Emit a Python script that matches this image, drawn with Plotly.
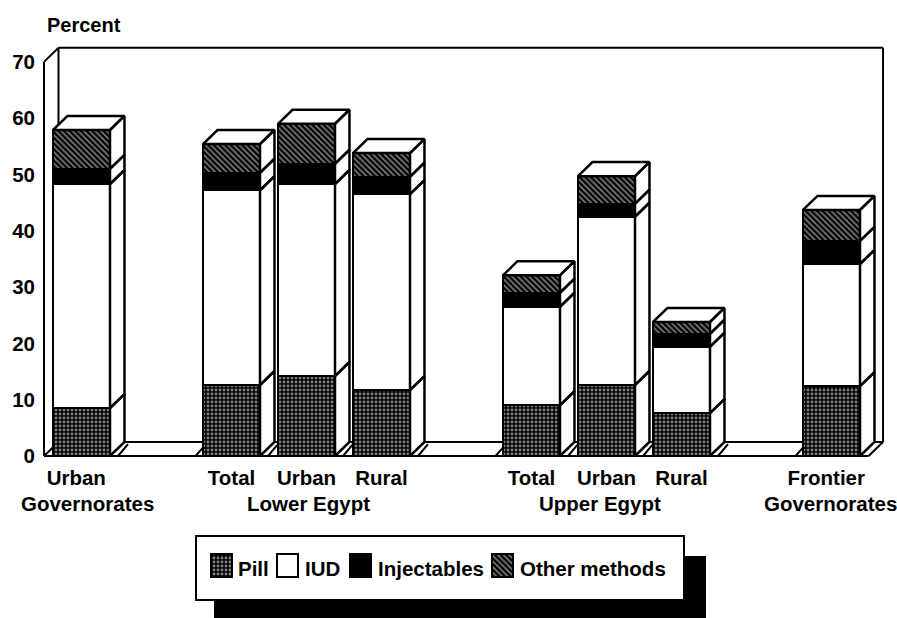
import plotly.graph_objects as go

positions = [0, 2, 3, 4, 6, 7, 8, 10]
row1_tickvals = [-0.07, 2, 3, 4, 6, 7, 8, 9.93]
row1_labels = ["Urban", "Total", "Urban", "Rural", "Total", "Urban", "Rural", "Frontier"]
row2_x = [0.08, 3.02, 6.91, 9.98]
row2_labels = ["Governorates", "Lower Egypt", "Upper Egypt", "Governorates"]

pill = [8.5, 12.6, 14.2, 11.7, 9.0, 12.6, 7.6, 12.4]
iud = [39.8, 34.6, 34.1, 34.8, 17.5, 29.9, 11.8, 21.7]
injectables = [2.7, 3.1, 3.6, 3.1, 2.5, 2.3, 2.3, 4.1]
other = [6.9, 5.1, 7.1, 4.2, 3.1, 4.9, 2.1, 5.5]
y_ticks = [0, 10, 20, 30, 40, 50, 60, 70]

legend_names = ["Pill", "IUD", "Injectables", "Other methods"]
swatch_left = [211, 277, 350, 492]
text_left = [236, 303, 376, 518]

W, H = 897, 618
MB = 12  # bottom margin; paper y=0 sits this far above the page bottom
BAR_W = 0.76
DX, DY = 0.193, 2.5
FONT = "Liberation Sans"
FS = 20.5
tfont = dict(family=FONT, size=FS, color="black", weight="bold")


def py(pixel_y):
    return 1 - pixel_y / (H - MB)


pill_m = dict(color="black", pattern=dict(shape=".", fgcolor="white", bgcolor="black", size=4, solidity=0.42))
iud_m = dict(color="white")
inj_m = dict(color="black")
oth_m = dict(color="black", pattern=dict(shape="\\", fgcolor="white", bgcolor="black", size=4, solidity=0.4))
styles = [pill_m, iud_m, inj_m, oth_m]

fig = go.Figure()
for name, vals, m in zip(legend_names, (pill, iud, injectables, other), styles):
    fig.add_trace(go.Bar(name=name, x=positions, y=vals, width=BAR_W, showlegend=False,
                         marker=dict(line=dict(color="black", width=2.5), **m)))

# side and top faces, derived from the stacked values
xs, ys = [], []
for i, p in enumerate(positions):
    r = p + BAR_W / 2
    l = p - BAR_W / 2
    base = 0
    for vals in (pill, iud, injectables, other):
        top = base + vals[i]
        xs += [r, r + DX, r + DX, r, r, None]
        ys += [base, base + DY, top + DY, top, base, None]
        base = top
    xs += [l, l + DX, r + DX, r, l, None]
    ys += [base, base + DY, base + DY, base, base, None]
fig.add_trace(go.Scatter(x=xs, y=ys, mode="lines", fill="toself", fillcolor="white",
                         line=dict(color="black", width=2.5), showlegend=False, hoverinfo="skip"))

# frame of the chart box
X0, X1 = -0.5, 10.494
line = dict(color="black", width=2)
frame = [
    (X0, 0, X0, 70), (X0, 70, X0 + DX, 72.5), (X0 + DX, 72.5, X1 + DX, 72.5),
    (X1 + DX, 72.5, X1 + DX, DY), (X0 + DX, 72.5, X0 + DX, DY),
    (X0 + DX, DY, X1 + DX, DY), (X0, 0, X1, 0), (X1, 0, X1 + DX, DY), (X0, 0, X0 + DX, DY),
]
# small floor diagonals beside the bars
for p in positions[:-1]:
    r = p + BAR_W / 2 + 0.107
    frame.append((r, 0, r + 0.133, 2.1))
for p in (2, 6, 10):
    l = p - BAR_W / 2 - 0.1
    frame.append((l, 0, l + 0.1, 1.5))
for a, b, c, d in frame:
    fig.add_shape(type="line", x0=a, y0=b, x1=c, y1=d, xref="x", yref="y", line=line, layer="below")

for xv, t in zip(row2_x, row2_labels):
    fig.add_annotation(x=xv, y=0, xref="x", yref="y", yshift=-47, text=t, showarrow=False, font=tfont)
fig.add_annotation(xref="paper", yref="paper", x=45 / W, y=py(25), xanchor="left", yanchor="middle",
                   text="Percent", showarrow=False, font=dict(family=FONT, size=20, color="black", weight="bold"))

# legend: shadow, box, swatches, labels
fig.add_shape(type="rect", xref="paper", yref="paper", x0=214 / W, x1=706 / W, y0=py(618), y1=py(556),
              fillcolor="black", line=dict(width=0), layer="below")
fig.add_shape(type="rect", xref="paper", yref="paper", x0=196 / W, x1=684 / W, y0=py(600), y1=py(536),
              fillcolor="white", line=dict(color="black", width=2), layer="below")
for name, sx, tx, m in zip(legend_names, swatch_left, text_left, styles):
    fig.add_trace(go.Bar(name=name, x=[sx + 10.5], y=[23], base=[23], width=[21], xaxis="x2", yaxis="y2",
                         showlegend=False, hoverinfo="skip",
                         marker=dict(line=dict(color="black", width=2), **m)))
    fig.add_annotation(x=tx, y=32, xref="x2", yref="y2", xanchor="left", yanchor="middle", text=name,
                       showarrow=False, font=tfont)

hidden = dict(visible=False, showgrid=False, zeroline=False, fixedrange=True)
fig.update_layout(
    width=W, height=H, autosize=False, barmode="stack", bargap=0,
    margin=dict(l=0, r=0, t=0, b=MB), paper_bgcolor="white", plot_bgcolor="rgba(0,0,0,0)",
    font=tfont, showlegend=False,
    xaxis=dict(domain=[38 / W, 887 / W], range=[-0.58, 10.74], tickmode="array", tickvals=row1_tickvals,
               ticktext=row1_labels, showgrid=False, zeroline=False, showline=False, ticks="",
               ticklabelstandoff=0, tickfont=tfont),
    yaxis=dict(domain=[py(463), py(40)], range=[-1.243, 73.89], tickmode="array", tickvals=y_ticks,
               showgrid=False, zeroline=False, showline=False, ticks="", ticklabelstandoff=2, tickfont=tfont),
    xaxis2=dict(domain=[196 / W, 684 / W], range=[196, 684], anchor="y2", **hidden),
    yaxis2=dict(domain=[py(600), py(536)], range=[0, 64], anchor="x2", **hidden),
)
fig.write_html("out.html", config=dict(displayModeBar=False),
               post_script="document.body.style.margin='0';document.body.style.overflow='hidden';")
